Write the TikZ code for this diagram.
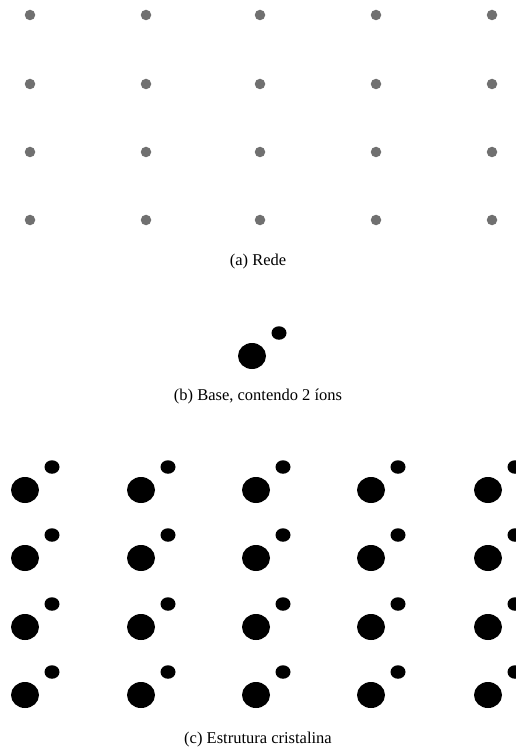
\documentclass[tikz,border=0pt]{standalone}
\usepackage{fontspec}
\setmainfont{Liberation Serif}
\usetikzlibrary{shapes.geometric}
\begin{document}
\begin{tikzpicture}[x=1pt,y=-1pt,
  latdot/.style={circle,fill=latgray,inner sep=0pt,minimum size=10.5pt},
  bigion/.style={ellipse,fill=black,inner sep=0pt,minimum width=28pt,minimum height=26pt},
  smallion/.style={ellipse,fill=black,inner sep=0pt,minimum width=15pt,minimum height=13.5pt},
  caption/.style={font=\fontsize{16.5}{18}\selectfont,inner sep=0pt}]
\definecolor{latgray}{RGB}{112,112,112}
\useasboundingbox (0,0) rectangle (515,751);
% (a) lattice
\foreach \c/\x in {1/30,2/146,3/260,4/376,5/492}
  \foreach \r/\y in {1/15,2/84,3/152,4/220}
    \node[latdot] (l\c\r) at (\x,\y) {};
\node[caption] (capa) at (258,262) {(a) Rede};
% (b) base
\node[bigion] (bb) at (252,356) {};
\node[smallion] (bs) at (279,333) {};
\node[caption] (capb) at (258,397) {(b) Base, contendo 2 íons};
% (c) crystal
\foreach \c/\x in {1/25,2/141,3/256,4/371,5/488}
  \foreach \r/\y in {1/490,2/558,3/627,4/695}
  {
    \node[bigion] (cb\c\r) at (\x,\y) {};
    \node[smallion] (cs\c\r) at (\x+27,\y-23) {};
  }
\node[caption] (capc) at (258,740) {(c) Estrutura cristalina};
\end{tikzpicture}
\end{document}
